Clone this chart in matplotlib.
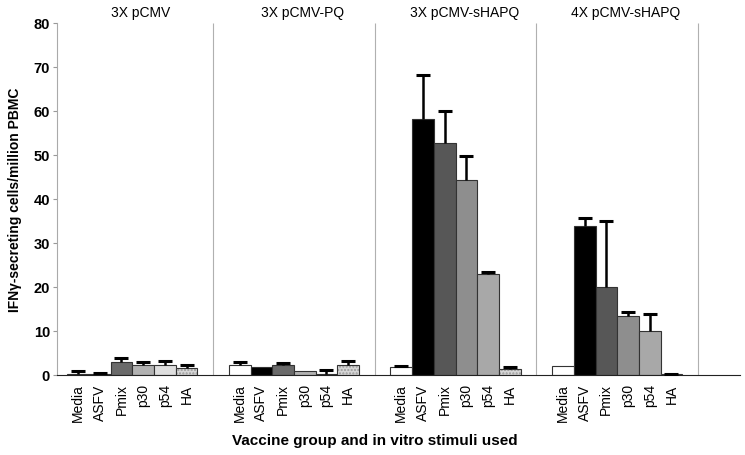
import numpy as np
import matplotlib
matplotlib.use("Agg")
import matplotlib.pyplot as plt

plt.rcParams['font.family'] = ['Liberation Sans', 'DejaVu Sans']

groups = ['3X pCMV', '3X pCMV-PQ', '3X pCMV-sHAPQ', '4X pCMV-sHAPQ']
stimuli = ['Media', 'ASFV', 'Pmix', 'p30', 'p54', 'HA']

# mean IFNy spots per group (rows) and stimulus (cols)
means_pcmv     = [0.3, 0.2, 2.9, 2.3, 2.3, 1.6]
means_pcmv_pq  = [2.3, 1.7, 2.2, 1.0, 0.2, 2.3]
means_sha_3x   = [1.8, 58.2, 52.7, 44.3, 22.9, 1.4]
means_sha_4x   = [2.1, 33.8, 20.0, 13.5, 10.0, 0.2]
# upper error bars (0 = none drawn)
err_pcmv       = [0.7, 0.2, 1.0, 0.6, 0.9, 0.7]
err_pcmv_pq    = [0.6, 0.0, 0.6, 0.0, 0.9, 0.8]
err_sha_3x     = [0.3, 10.0, 7.2, 5.4, 0.6, 0.4]
err_sha_4x     = [0.0, 1.9, 15.0, 0.9, 3.9, 0.1]

means = [means_pcmv, means_pcmv_pq, means_sha_3x, means_sha_4x]
errs = [err_pcmv, err_pcmv_pq, err_sha_3x, err_sha_4x]

cols_light = ['white', 'black', '#6a6a6a', '#b2b2b2', '#dedede', '#d6d6d6']
cols_dark = ['white', 'black', '#575757', '#8e8e8e', '#a8a8a8', '#d6d6d6']
group_cols = [cols_light, cols_light, cols_dark, cols_dark]

period = 7.45
fig = plt.figure(figsize=(7.45, 4.56), dpi=100)
ax = fig.add_axes([0.0765, 0.1755, 0.9165, 0.772])

xt, xl = [], []
for g in range(4):
    xs = g * period + np.arange(6)
    m = np.array(means[g])
    e = np.array(errs[g])
    for j in range(6):
        if j == 5:
            ax.bar(xs[j], m[j], width=1.0, color=group_cols[g][j],
                   edgecolor='#9a9a9a', hatch='.....', linewidth=0, zorder=2)
            ax.bar(xs[j], m[j], width=1.0, fill=False,
                   edgecolor='#333333', linewidth=0.8, zorder=3)
        else:
            ax.bar(xs[j], m[j], width=1.0, color=group_cols[g][j],
                   edgecolor='#333333', linewidth=0.8, zorder=2)
    has = e > 0
    # upper error bars only: stem + cap
    ax.vlines(xs[has], m[has], m[has] + e[has], color='black', linewidth=1.8, zorder=4)
    ax.plot(xs[has], m[has] + e[has], ls='none', marker='_', markersize=10.5,
            mew=2.2, color='black', zorder=4)
    xt += list(xs)
    xl += stimuli
    ax.vlines(g * period + 6.225, 0, 80, color='#b0b0b0', linewidth=0.8, zorder=1)
    ax.text(g * period + 2.9, 82.5, groups[g], ha='center', va='center', fontsize=10)

ax.set_xlim(-0.97, 30.5)
ax.set_ylim(0, 80)
ax.set_yticks(np.arange(0, 81, 10))
ax.tick_params(axis='y', labelsize=10.5, length=3, color='#999999', pad=2)
for t in ax.get_yticklabels():
    t.set_fontweight('bold')
ax.set_xticks(xt)
ax.set_xticklabels(xl, rotation=90, fontsize=10)
ax.tick_params(axis='x', length=0, pad=6)

ax.spines['top'].set_visible(False)
ax.spines['right'].set_visible(False)
ax.spines['left'].set_color('#aaaaaa')
ax.spines['bottom'].set_color('#222222')

ax.set_ylabel('IFNγ-secreting cells/million PBMC', fontsize=10, fontweight='bold', labelpad=8)
fig.text(0.503, 0.025, 'Vaccine group and in vitro stimuli used', ha='center',
         fontsize=11, fontweight='bold')

fig.savefig('out.png', dpi=100)
